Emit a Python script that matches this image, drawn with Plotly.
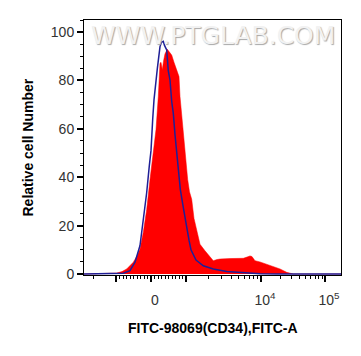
import plotly.graph_objects as go
import math

# ---- data (x in display channel units across the biexponential axis, y = relative cell number)
sample_x = [0, 21, 26, 32.7, 38, 42.7, 46, 49.3, 53, 56, 59.3, 62.7, 66, 69.3, 72, 74.3, 75.3, 76,
            77, 78.3, 79.5, 81, 83.3, 85, 87.7, 90, 92.7, 95, 96, 97.5, 99, 101, 103.7, 105.5, 107.7,
            110, 112.7, 116, 121, 125, 129.3, 133, 136, 146, 159.3, 163, 166, 168, 171, 176, 182.7,
            189, 196, 202.7, 209.3, 257]
sample_y = [0, 0, 0.3, 0.4, 1.0, 2.1, 3.5, 4.9, 7.5, 10.3, 17.3, 26.7, 39.1, 50.5, 59.7, 73.4, 79, 87.1,
            87.5, 84.4, 88, 91, 92.9, 91.8, 90.5, 87.5, 84.4, 81.6, 73.4, 66, 60, 51.4, 39, 34, 30.9,
            23, 18.5, 12.3, 9.6, 7.5, 5.5, 6.0, 6.2, 6.4, 6.5, 7.0, 7.5, 7.2, 5.5, 5.0, 4.1,
            3.0, 2.1, 0.7, 0, 0]

control_x = [0, 31, 39.3, 46, 51, 56, 59.3, 62.7, 65.3, 67, 68.7, 70, 73.3, 76, 77.5, 79.3, 80.5, 82.7,
             84.3, 86, 87.7, 89.3, 91, 92.7, 94.3, 96.3, 99.5, 102.5, 105, 107, 112, 119.3, 129.3,
             142.7, 159.3, 176, 193, 257]
control_y = [0, 0, 0.3, 1.4, 4.9, 11.8, 21.8, 33.7, 44.7, 51, 64, 72, 84.8, 94, 95.8, 96.2, 94.5, 92.6,
             84, 80.2, 71.3, 66.5, 57.6, 50, 42, 35, 27, 19, 14, 10, 5.8, 3.4, 2.1,
             1.0, 0.4, 0.1, 0, 0]

x_major_vals = [32, 67, 102, 177, 241]
x_major_text = ["", "0", "", "10<sup>4</sup>", "10<sup>5</sup>"]
y_tick_vals = [0, 20, 40, 60, 80, 100]

# minor ticks of the biexponential axis: linear region around zero, then log decades
x_minor_vals = [9.3] + [32 + 3.5 * k for k in range(1, 20) if k != 10]
x_minor_vals += [102 + 75 * math.log10(m) for m in range(2, 10)]
x_minor_vals += [177 + 64 * math.log10(m) for m in range(2, 10)]

fig = go.Figure()
fig.add_trace(go.Scatter(x=sample_x, y=sample_y, mode="lines", fill="tozeroy",
                         line=dict(color="#ff0000", width=0.5), fillcolor="#ff0000",
                         hoverinfo="skip", showlegend=False))
fig.add_trace(go.Scatter(x=control_x, y=control_y, mode="lines",
                         line=dict(color="#1f1f96", width=1.5),
                         hoverinfo="skip", showlegend=False))

tick_font = dict(family="Liberation Sans, Arial, sans-serif", size=14, color="#333333")

# the page body adds an 8px offset, so the figure is 8px smaller and left/top margins compensate
fig.update_layout(
    width=353, height=348,
    margin=dict(l=76, r=20, t=12, b=81),
    paper_bgcolor="white", plot_bgcolor="white",
    xaxis=dict(range=[0, 257], showgrid=False, zeroline=False,
               showline=True, linecolor="black", linewidth=1, mirror=True,
               tickmode="array", tickvals=x_major_vals, ticktext=x_major_text,
               ticks="outside", ticklen=6, tickwidth=2, tickcolor="black",
               ticklabelshift=4, ticklabelstandoff=6, tickfont=tick_font,
               minor=dict(tickmode="array", tickvals=x_minor_vals, ticks="outside",
                          ticklen=3, tickwidth=1, tickcolor="black", showgrid=False)),
    yaxis=dict(range=[-0.4, 105], showgrid=False, zeroline=False,
               showline=True, linecolor="black", linewidth=1, mirror=True,
               tickmode="array", tickvals=y_tick_vals,
               ticks="outside", ticklen=6, tickwidth=1.5, tickcolor="black",
               tickfont=tick_font,
               minor=dict(tickmode="linear", tick0=0, dtick=5, ticks="outside",
                          ticklen=3, tickwidth=1, tickcolor="black", showgrid=False)),
    annotations=[
        dict(text="<b>FITC-98069(CD34),FITC-A</b>", xref="paper", yref="paper", x=0.5, y=0,
             yshift=-53, xanchor="center", yanchor="middle", showarrow=False,
             font=dict(family="Liberation Sans, Arial, sans-serif", size=14, color="black")),
        dict(text="<b>Relative cell Number</b>", xref="paper", yref="paper", x=0, y=0.5,
             xshift=-57, xanchor="center", yanchor="middle", textangle=-90, showarrow=False,
             font=dict(family="Liberation Sans, Arial, sans-serif", size=14, color="black")),
        dict(text="WWW.PTGLAB.COM", xref="paper", yref="paper", x=0.5, y=1, yshift=-15,
             xanchor="center", yanchor="middle", showarrow=False,
             font=dict(family="DejaVu Sans, sans-serif", size=25, color="#f2f2f2",
                       shadow="1px 1px 1px #a8a8a8")),
    ],
)

fig.write_html("out.html")
